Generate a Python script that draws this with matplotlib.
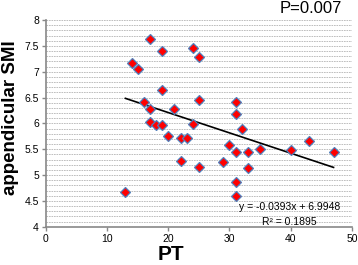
import numpy as np
import matplotlib
matplotlib.use("Agg")
from matplotlib import pyplot as plt

# PT (x) and appendicular SMI (y)
pt = [13, 14, 15, 16, 17, 17, 17, 18, 19, 19, 19, 20, 21, 22, 22, 23, 24, 24,
      25, 25, 25, 29, 30, 31, 31, 31, 31, 31, 32, 33, 33, 35, 40, 43, 47]
smi = [4.68, 7.17, 7.05, 6.41, 7.64, 6.28, 6.02, 5.96, 7.40, 6.65, 5.97, 5.75,
       6.27, 5.72, 5.28, 5.71, 7.46, 5.98, 7.29, 6.45, 5.15, 5.26, 5.58, 6.41,
       6.19, 5.44, 4.87, 4.59, 5.89, 5.44, 5.13, 5.50, 5.48, 5.65, 5.45]

# linear trend as printed on the chart
slope = -0.0393
intercept = 6.9948
r2 = 0.1895
p_text = "P=0.007"

xticks = [0, 10, 20, 30, 40, 50]
yticks = [4, 4.5, 5, 5.5, 6, 6.5, 7, 7.5, 8]

plt.rcParams['font.family'] = ['Liberation Sans', 'DejaVu Sans']

fig = plt.figure(figsize=(3.58, 2.65), dpi=100)
ax = fig.add_axes([0.128, 0.1445, 0.855, 0.78])

# dotted minor grid every 0.1
for g in np.arange(4.1, 8.01, 0.1):
    ax.axhline(g, color='#b4b4b4', lw=0.6, ls=(0, (2, 1)), zorder=0)

xs = np.array([min(pt), max(pt)])
ax.plot(xs, slope * xs + intercept, color='black', lw=1.2, zorder=2)

ax.plot(pt, smi, ls='none', marker='D', ms=5.5, mfc='#ff0000',
        mec='#4f81bd', mew=0.9, zorder=3)

ax.set_xlim(0, 50)
ax.set_ylim(4, 8)
ax.set_xticks(xticks)
ax.set_yticks(yticks)
ax.set_yticklabels([f"{v:g}" for v in yticks])
ax.tick_params(axis='both', labelsize=7.5, color='#888888', length=3,
               width=1, direction='out', pad=2)

for s in ['top', 'right']:
    ax.spines[s].set_visible(False)
for s in ['left', 'bottom']:
    ax.spines[s].set_color('#888888')
    ax.spines[s].set_linewidth(1.2)

ax.set_xlabel("PT", fontsize=15, fontweight='bold', va='top')
ax.xaxis.set_label_coords(0.409, -0.09)
ax.set_ylabel("appendicular SMI", fontsize=13.5, fontweight='bold')
ax.yaxis.set_label_coords(-0.087, 0.528)

ax.text(0.797, 0.094, f"y = {slope}x + {intercept}", transform=ax.transAxes,
        ha='center', va='center', fontsize=7.5)
ax.text(0.797, 0.024, f"R² = {r2}", transform=ax.transAxes,
        ha='center', va='center', fontsize=7.5)

fig.text(342 / 358, 1 - 13 / 265, p_text, ha='right', va='baseline',
         fontsize=12)

fig.savefig("out.png", dpi=100)
